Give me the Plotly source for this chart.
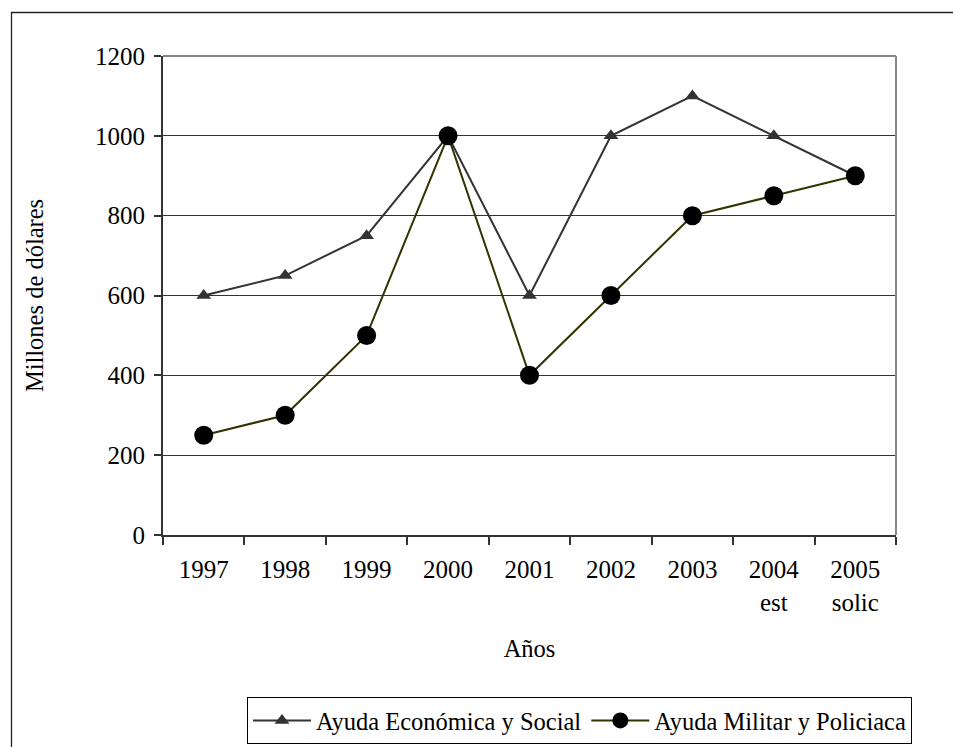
import plotly.graph_objects as go

# Categories and series (millions of dollars)
years = ["1997", "1998", "1999", "2000", "2001", "2002", "2003", "2004<br>est", "2005<br>solic"]
ayuda_economica = [600, 650, 750, 1000, 600, 1000, 1100, 1000, 900]
ayuda_militar = [250, 300, 500, 1000, 400, 600, 800, 850, 900]
y_ticks = [0, 200, 400, 600, 800, 1000, 1200]

FONT = "Liberation Serif, Times New Roman, serif"

W, H = 953, 747
L, R, T, B = 163, 57, 56, 212
pw, ph = W - L - R, H - T - B


def px_x(x):
    return (x - L) / pw


def px_y(y):
    return (H - B - y) / ph


fig = go.Figure()

fig.add_trace(go.Scatter(
    x=years, y=ayuda_economica, name="Ayuda Económica y Social",
    mode="lines+markers",
    line=dict(color="#333333", width=2),
    marker=dict(symbol="triangle-up", size=13, color="#333333"),
))
fig.add_trace(go.Scatter(
    x=years, y=ayuda_militar, name="Ayuda Militar y Policiaca",
    mode="lines+markers",
    line=dict(color="#333300", width=2),
    marker=dict(symbol="circle", size=19, color="#000000"),
))

# outer frame of the figure (extends past the right and bottom edges)
fig.add_shape(type="rect", xref="paper", yref="paper",
              x0=px_x(11.5), x1=px_x(1000), y0=px_y(12.5), y1=px_y(800),
              line=dict(color="#222222", width=1.3), layer="below")
# right border and top edge of the plot area
fig.add_shape(type="line", xref="paper", yref="paper",
              x0=1, x1=1, y0=0, y1=1,
              line=dict(color="#888888", width=2))
fig.add_shape(type="line", xref="paper", yref="paper",
              x0=0, x1=1, y0=1, y1=1,
              line=dict(color="#888888", width=2))

fig.update_layout(
    width=W, height=H,
    margin=dict(l=L, r=R, t=T, b=B, autoexpand=False),
    paper_bgcolor="white", plot_bgcolor="white",
    font=dict(family=FONT, size=25, color="#000000"),
    showlegend=True,
    legend=dict(
        orientation="h", xref="container", yref="container",
        x=247 / W, y=(H - 697) / H, xanchor="left", yanchor="top",
        bordercolor="#000000", borderwidth=1, bgcolor="white",
        font=dict(family=FONT, size=24.5, color="#000000"),
        itemwidth=58, tracegroupgap=0,
    ),
    xaxis=dict(
        type="category", tickson="boundaries",
        ticks="outside", ticklen=8, tickcolor="#333333", tickwidth=1.5,
        showline=True, linecolor="#333333", linewidth=2,
        showgrid=False, zeroline=False,
        tickfont=dict(family=FONT, size=25),
        ticklabelstandoff=11,
        title=dict(text="Años", font=dict(family=FONT, size=24.5), standoff=25),
        range=[-0.5, 8.5],
    ),
    yaxis=dict(
        range=[0, 1200], tickvals=y_ticks,
        ticks="outside", ticklen=7, tickcolor="#333333", tickwidth=1.5,
        showline=True, linecolor="#333333", linewidth=2,
        showgrid=True, gridcolor="#333333", gridwidth=1,
        zeroline=False,
        tickfont=dict(family=FONT, size=25),
        ticklabelstandoff=4,
        title=dict(text="Millones de dólares", font=dict(family=FONT, size=24.5), standoff=44),
    ),
)

fig.write_html("out.html")
